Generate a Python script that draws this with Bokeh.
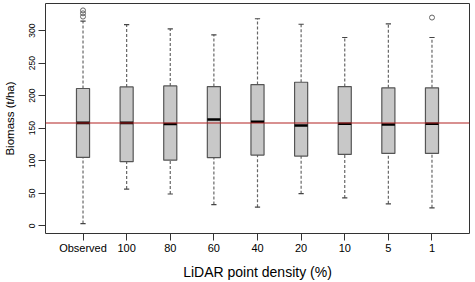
from bokeh.plotting import figure
from bokeh.models import Range1d, FixedTicker, ColumnDataSource
from bokeh.embed import file_html
from bokeh.resources import INLINE

# Biomass estimates by LiDAR point density (t/ha)
categories = ["Observed", "100", "80", "60", "40", "20", "10", "5", "1"]
whisker_low = [3.5, 56.6, 49.0, 32.8, 28.8, 49.5, 43.0, 33.9, 27.8]
q1 = [105.2, 98.7, 101.0, 104.8, 108.7, 107.2, 109.8, 111.3, 111.3]
median = [158.3, 158.3, 156.4, 163.4, 159.9, 154.2, 156.8, 155.8, 156.8]
q3 = [211.0, 213.4, 215.0, 214.0, 217.0, 220.6, 214.0, 212.0, 212.0]
whisker_high = [314.5, 309.0, 302.6, 293.5, 318.2, 309.7, 289.4, 310.2, 289.4]
outlier_category = ["Observed", "Observed", "Observed", "1"]
outlier_value = [331.0, 326.5, 321.5, 320.0]
observed_mean = 158.0

pos = list(range(1, len(categories) + 1))
index_of = {c: i + 1 for i, c in enumerate(categories)}

box_w = 0.30
cap_w = 0.12

src = ColumnDataSource(dict(
    x=pos, lo=whisker_low, q1=q1, med=median, q3=q3, hi=whisker_high,
    ml=[x - box_w / 2 for x in pos], mr=[x + box_w / 2 for x in pos],
    cl=[x - cap_w / 2 for x in pos], cr=[x + cap_w / 2 for x in pos],
))

FONT = "Arial"
TEXT = "black"

x_range = Range1d(0.14, 9.86)
p = figure(width=475, height=282, output_backend="svg", toolbar_location=None,
           x_range=x_range, y_range=Range1d(-11.7, 341.6),
           min_border_left=45, min_border_right=6, min_border_top=3,
           min_border_bottom=46)

p.background_fill_color = "white"
p.border_fill_color = "white"
p.outline_line_color = "#333333"
p.outline_line_width = 1
p.xgrid.visible = False
p.ygrid.visible = False

# whiskers (dashed) and caps
p.segment(x0="x", y0="q3", x1="x", y1="hi", source=src, line_color="#666666",
          line_width=1.2, line_dash="3 2")
p.segment(x0="x", y0="lo", x1="x", y1="q1", source=src, line_color="#666666",
          line_width=1.2, line_dash="3 2")
p.segment(x0="cl", y0="hi", x1="cr", y1="hi", source=src, line_color="#444444",
          line_width=1.2)
p.segment(x0="cl", y0="lo", x1="cr", y1="lo", source=src, line_color="#444444",
          line_width=1.2)

# boxes
p.vbar(x="x", bottom="q1", top="q3", width=box_w, source=src,
       fill_color="#c8c8c8", line_color="#555555", line_width=1.2)
# medians
p.segment(x0="ml", y0="med", x1="mr", y1="med", source=src,
          line_color="black", line_width=2.6)

# outliers
p.scatter([index_of[c] for c in outlier_category], outlier_value, marker="circle",
          size=5, fill_color=None, line_color="#666666", line_width=1)

# observed mean reference line, edge to edge of the x range
p.segment(x0=[x_range.start], y0=[observed_mean], x1=[x_range.end],
          y1=[observed_mean], line_color="#b22222", line_width=1.2)

# axes
p.xaxis.ticker = FixedTicker(ticks=pos)
p.xaxis.major_label_overrides = {x: c for x, c in zip(pos, categories)}
p.yaxis.ticker = FixedTicker(ticks=[0, 50, 100, 150, 200, 250, 300])
p.yaxis.major_label_orientation = "vertical"

for ax in (p.xaxis, p.yaxis):
    ax.axis_line_color = None
    ax.major_tick_line_color = "#333333"
    ax.major_tick_out = 7
    ax.major_tick_in = 0
    ax.minor_tick_line_color = None
    ax.major_label_text_font = FONT
    ax.major_label_text_color = TEXT
    ax.axis_label_text_font = FONT
    ax.axis_label_text_color = TEXT
    ax.axis_label_text_font_style = "normal"

p.xaxis.major_label_text_font_size = "11px"
p.xaxis.major_label_standoff = 1
p.xaxis.axis_label = "LiDAR point density (%)"
p.xaxis.axis_label_text_font_size = "14px"
p.xaxis.axis_label_standoff = 7

p.yaxis.major_label_text_font_size = "8.5px"
p.yaxis.major_label_standoff = 3
p.yaxis.axis_label = "Biomass (t/ha)"
p.yaxis.axis_label_text_font_size = "11.5px"
p.yaxis.axis_label_standoff = 11

open("out.html", "w").write(file_html(p, INLINE))
